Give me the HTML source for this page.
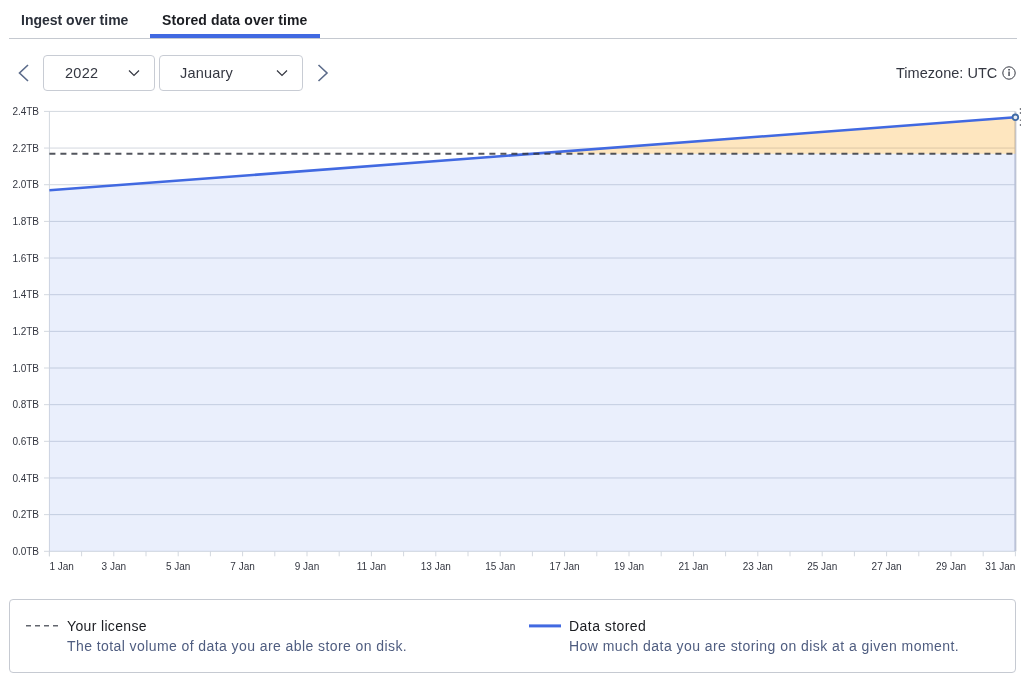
<!DOCTYPE html>
<html><head><meta charset="utf-8">
<style>
html,body{-webkit-font-smoothing:antialiased;margin:0;}
.tab,.seltxt,.lt,.ld,svg{will-change:transform;}
html,body{padding:0;background:#fff;width:1021px;height:682px;overflow:hidden;font-family:"Liberation Sans",sans-serif;}
.abs{position:absolute;}
.tabs{position:absolute;left:9px;top:0;width:1008px;height:38px;border-bottom:1px solid #c5c9d0;}
.tab{position:absolute;top:0;height:38px;font-weight:bold;font-size:14px;color:#2b303a;line-height:40px;white-space:nowrap;}
.tab.active{color:#1a1c21;}
.bar{position:absolute;left:150px;top:34px;width:170px;height:4px;background:#4169e1;}
.sel{position:absolute;top:55px;height:34px;border:1px solid #c8ccd4;border-radius:4px;box-sizing:content-box;}
.seltxt{position:absolute;font-size:14.5px;color:#343741;white-space:nowrap;letter-spacing:0.3px;}
svg text{font-family:"Liberation Sans",sans-serif;font-size:10px;fill:#343741;}
.legend{position:absolute;left:9px;top:599px;width:1005px;height:72px;border:1px solid #c6cad2;border-radius:4px;}
.lt{position:absolute;font-size:14px;color:#1a1c21;white-space:nowrap;letter-spacing:0.2px;}
.ld{position:absolute;font-size:14px;color:#4f5d80;white-space:nowrap;letter-spacing:0.38px;}
</style></head><body>
<div class="tabs"></div>
<div class="tab" style="left:21px;top:0">Ingest over time</div>
<div class="tab active" style="left:162px;top:0;letter-spacing:0.11px">Stored data over time</div>
<div class="bar"></div>

<svg class="abs" style="left:0;top:0" width="1021" height="100">
<polyline points="28,65 19.5,73 28,81" fill="none" stroke="#5b6b8a" stroke-width="1.6"/>
<polyline points="318.5,65 327,73 318.5,81" fill="none" stroke="#5b6b8a" stroke-width="1.6"/>
<polyline points="129,70.5 134,75.5 139,70.5" fill="none" stroke="#343741" stroke-width="1.2"/>
<polyline points="277,70.5 282,75.5 287,70.5" fill="none" stroke="#343741" stroke-width="1.2"/>
<circle cx="1009" cy="73" r="6.2" fill="none" stroke="#343741" stroke-width="1"/>
<rect x="1008.4" y="71.5" width="1.3" height="4.5" fill="#343741"/>
<rect x="1008.3" y="69" width="1.5" height="1.5" fill="#343741"/>
</svg>
<div class="sel" style="left:43px;width:110px"></div>
<div class="sel" style="left:159px;width:142px"></div>
<div class="seltxt" style="left:64.5px;top:64.5px">2022</div>
<div class="seltxt" style="left:179.8px;top:64.5px;letter-spacing:0.18px">January</div>
<div class="seltxt" style="left:896.4px;top:65px;letter-spacing:0.03px">Timezone: UTC</div>

<svg class="abs" style="left:0;top:0" width="1021" height="590">
<line x1="44" y1="551.30" x2="1015.4" y2="551.30" stroke="#d3d8df" stroke-width="1"/>
<text x="39" y="554.90" text-anchor="end" style="letter-spacing:-0.05px">0.0TB</text>
<line x1="44" y1="514.64" x2="1015.4" y2="514.64" stroke="#d3d8df" stroke-width="1"/>
<text x="39" y="518.24" text-anchor="end" style="letter-spacing:-0.05px">0.2TB</text>
<line x1="44" y1="477.98" x2="1015.4" y2="477.98" stroke="#d3d8df" stroke-width="1"/>
<text x="39" y="481.58" text-anchor="end" style="letter-spacing:-0.05px">0.4TB</text>
<line x1="44" y1="441.32" x2="1015.4" y2="441.32" stroke="#d3d8df" stroke-width="1"/>
<text x="39" y="444.92" text-anchor="end" style="letter-spacing:-0.05px">0.6TB</text>
<line x1="44" y1="404.67" x2="1015.4" y2="404.67" stroke="#d3d8df" stroke-width="1"/>
<text x="39" y="408.27" text-anchor="end" style="letter-spacing:-0.05px">0.8TB</text>
<line x1="44" y1="368.01" x2="1015.4" y2="368.01" stroke="#d3d8df" stroke-width="1"/>
<text x="39" y="371.61" text-anchor="end" style="letter-spacing:-0.05px">1.0TB</text>
<line x1="44" y1="331.35" x2="1015.4" y2="331.35" stroke="#d3d8df" stroke-width="1"/>
<text x="39" y="334.95" text-anchor="end" style="letter-spacing:-0.05px">1.2TB</text>
<line x1="44" y1="294.69" x2="1015.4" y2="294.69" stroke="#d3d8df" stroke-width="1"/>
<text x="39" y="298.29" text-anchor="end" style="letter-spacing:-0.05px">1.4TB</text>
<line x1="44" y1="258.03" x2="1015.4" y2="258.03" stroke="#d3d8df" stroke-width="1"/>
<text x="39" y="261.63" text-anchor="end" style="letter-spacing:-0.05px">1.6TB</text>
<line x1="44" y1="221.38" x2="1015.4" y2="221.38" stroke="#d3d8df" stroke-width="1"/>
<text x="39" y="224.97" text-anchor="end" style="letter-spacing:-0.05px">1.8TB</text>
<line x1="44" y1="184.72" x2="1015.4" y2="184.72" stroke="#d3d8df" stroke-width="1"/>
<text x="39" y="188.32" text-anchor="end" style="letter-spacing:-0.05px">2.0TB</text>
<line x1="44" y1="148.06" x2="1015.4" y2="148.06" stroke="#d3d8df" stroke-width="1"/>
<text x="39" y="151.66" text-anchor="end" style="letter-spacing:-0.05px">2.2TB</text>
<line x1="44" y1="111.40" x2="1015.4" y2="111.40" stroke="#d3d8df" stroke-width="1"/>
<text x="39" y="115.00" text-anchor="end" style="letter-spacing:-0.05px">2.4TB</text>
<line x1="49.4" y1="111.4" x2="49.4" y2="556.3" stroke="#d3d8df" stroke-width="1"/>
<line x1="1015.4" y1="111.4" x2="1015.4" y2="551.3" stroke="#c3c8d5" stroke-width="2"/>
<line x1="49.40" y1="551.3" x2="49.40" y2="556.3" stroke="#d3d8df" stroke-width="1"/>
<text x="49.40" y="570" text-anchor="start">1 Jan</text>
<line x1="81.60" y1="551.3" x2="81.60" y2="556.3" stroke="#d3d8df" stroke-width="1"/>
<line x1="113.80" y1="551.3" x2="113.80" y2="556.3" stroke="#d3d8df" stroke-width="1"/>
<text x="113.80" y="570" text-anchor="middle">3 Jan</text>
<line x1="146.00" y1="551.3" x2="146.00" y2="556.3" stroke="#d3d8df" stroke-width="1"/>
<line x1="178.20" y1="551.3" x2="178.20" y2="556.3" stroke="#d3d8df" stroke-width="1"/>
<text x="178.20" y="570" text-anchor="middle">5 Jan</text>
<line x1="210.40" y1="551.3" x2="210.40" y2="556.3" stroke="#d3d8df" stroke-width="1"/>
<line x1="242.60" y1="551.3" x2="242.60" y2="556.3" stroke="#d3d8df" stroke-width="1"/>
<text x="242.60" y="570" text-anchor="middle">7 Jan</text>
<line x1="274.80" y1="551.3" x2="274.80" y2="556.3" stroke="#d3d8df" stroke-width="1"/>
<line x1="307.00" y1="551.3" x2="307.00" y2="556.3" stroke="#d3d8df" stroke-width="1"/>
<text x="307.00" y="570" text-anchor="middle">9 Jan</text>
<line x1="339.20" y1="551.3" x2="339.20" y2="556.3" stroke="#d3d8df" stroke-width="1"/>
<line x1="371.40" y1="551.3" x2="371.40" y2="556.3" stroke="#d3d8df" stroke-width="1"/>
<text x="371.40" y="570" text-anchor="middle">11 Jan</text>
<line x1="403.60" y1="551.3" x2="403.60" y2="556.3" stroke="#d3d8df" stroke-width="1"/>
<line x1="435.80" y1="551.3" x2="435.80" y2="556.3" stroke="#d3d8df" stroke-width="1"/>
<text x="435.80" y="570" text-anchor="middle">13 Jan</text>
<line x1="468.00" y1="551.3" x2="468.00" y2="556.3" stroke="#d3d8df" stroke-width="1"/>
<line x1="500.20" y1="551.3" x2="500.20" y2="556.3" stroke="#d3d8df" stroke-width="1"/>
<text x="500.20" y="570" text-anchor="middle">15 Jan</text>
<line x1="532.40" y1="551.3" x2="532.40" y2="556.3" stroke="#d3d8df" stroke-width="1"/>
<line x1="564.60" y1="551.3" x2="564.60" y2="556.3" stroke="#d3d8df" stroke-width="1"/>
<text x="564.60" y="570" text-anchor="middle">17 Jan</text>
<line x1="596.80" y1="551.3" x2="596.80" y2="556.3" stroke="#d3d8df" stroke-width="1"/>
<line x1="629.00" y1="551.3" x2="629.00" y2="556.3" stroke="#d3d8df" stroke-width="1"/>
<text x="629.00" y="570" text-anchor="middle">19 Jan</text>
<line x1="661.20" y1="551.3" x2="661.20" y2="556.3" stroke="#d3d8df" stroke-width="1"/>
<line x1="693.40" y1="551.3" x2="693.40" y2="556.3" stroke="#d3d8df" stroke-width="1"/>
<text x="693.40" y="570" text-anchor="middle">21 Jan</text>
<line x1="725.60" y1="551.3" x2="725.60" y2="556.3" stroke="#d3d8df" stroke-width="1"/>
<line x1="757.80" y1="551.3" x2="757.80" y2="556.3" stroke="#d3d8df" stroke-width="1"/>
<text x="757.80" y="570" text-anchor="middle">23 Jan</text>
<line x1="790.00" y1="551.3" x2="790.00" y2="556.3" stroke="#d3d8df" stroke-width="1"/>
<line x1="822.20" y1="551.3" x2="822.20" y2="556.3" stroke="#d3d8df" stroke-width="1"/>
<text x="822.20" y="570" text-anchor="middle">25 Jan</text>
<line x1="854.40" y1="551.3" x2="854.40" y2="556.3" stroke="#d3d8df" stroke-width="1"/>
<line x1="886.60" y1="551.3" x2="886.60" y2="556.3" stroke="#d3d8df" stroke-width="1"/>
<text x="886.60" y="570" text-anchor="middle">27 Jan</text>
<line x1="918.80" y1="551.3" x2="918.80" y2="556.3" stroke="#d3d8df" stroke-width="1"/>
<line x1="951.00" y1="551.3" x2="951.00" y2="556.3" stroke="#d3d8df" stroke-width="1"/>
<text x="951.00" y="570" text-anchor="middle">29 Jan</text>
<line x1="983.20" y1="551.3" x2="983.20" y2="556.3" stroke="#d3d8df" stroke-width="1"/>
<line x1="1015.40" y1="551.3" x2="1015.40" y2="556.3" stroke="#d3d8df" stroke-width="1"/>
<text x="1015.40" y="570" text-anchor="end">31 Jan</text>
<polygon points="49.4,551.3 49.4,190.3 533.72,153.7 1015.4,153.7 1015.4,551.3" fill="rgba(65,105,225,0.11)"/>
<polygon points="533.72,153.7 1015.4,117.3 1015.4,153.7" fill="rgba(250,155,0,0.25)"/>
<line x1="49.4" y1="190.3" x2="1015.4" y2="117.3" stroke="#4169e1" stroke-width="2.6" stroke-linecap="butt"/>
<line x1="49.4" y1="153.7" x2="1012.4" y2="153.7" stroke="#343741" stroke-opacity="0.85" stroke-width="2" stroke-dasharray="6 5"/>
<circle cx="1015.4" cy="117.3" r="2.8" fill="#e9ecf3" stroke="#3f6aa6" stroke-width="1.8"/>
<rect x="1019.8" y="108" width="1.2" height="2" fill="#7d8087"/>
<rect x="1019.8" y="112" width="1.2" height="2" fill="#7d8087"/>
<rect x="1019.8" y="119.5" width="1.2" height="1.5" fill="#7d8087"/>
<rect x="1019.8" y="124" width="1.2" height="2" fill="#7d8087"/>
</svg>

<div class="legend"></div>
<svg class="abs" style="left:0;top:600px" width="1021" height="80">
<line x1="26" y1="25.7" x2="58" y2="25.7" stroke="#62666e" stroke-width="1.6" stroke-dasharray="5 4"/>
<line x1="529" y1="25.9" x2="561" y2="25.9" stroke="#4169e1" stroke-width="3"/>
</svg>
<div class="lt" style="left:66.6px;top:617.5px;letter-spacing:0.35px">Your license</div>
<div class="ld" style="left:66.6px;top:637.7px;letter-spacing:0.42px">The total volume of data you are able store on disk.</div>
<div class="lt" style="left:568.6px;top:617.5px;letter-spacing:0.45px">Data stored</div>
<div class="ld" style="left:568.6px;top:637.7px;letter-spacing:0.45px">How much data you are storing on disk at a given moment.</div>
</body></html>
